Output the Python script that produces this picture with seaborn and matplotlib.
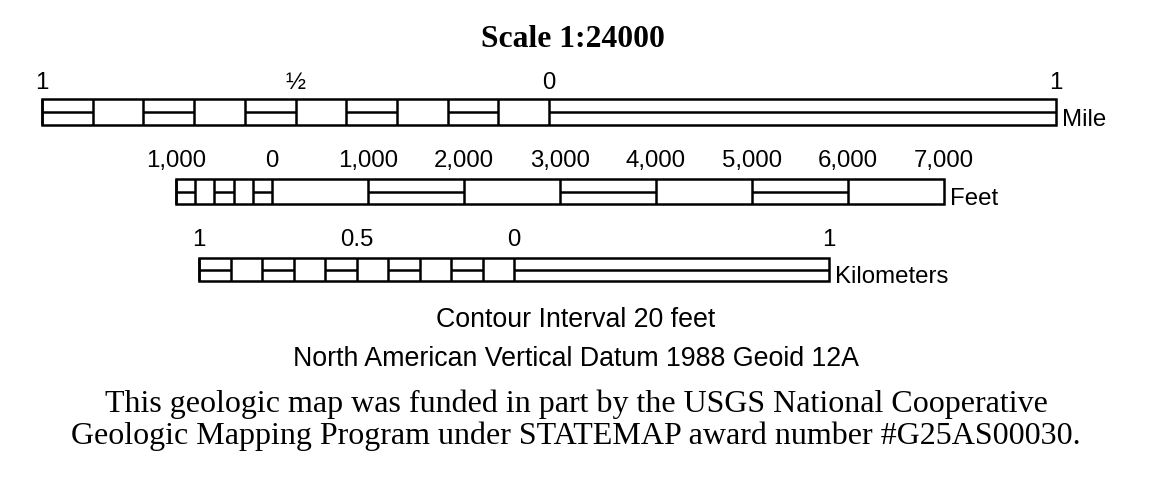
import matplotlib
matplotlib.use("Agg")
import matplotlib.pyplot as plt
import seaborn as sns
import numpy as np

# ---------------- data ----------------
title = "Scale 1:24000"
scale_denominator = 24000

mile_label_values = [-1, -0.5, 0, 1]
mile_labels = ["1", "\u00bd", "0", "1"]
mile_left_divisions = 10
mile_left_pattern = [1, 0, 1, 0, 1, 0, 1, 0, 1, 0]   # 1 = middle line
mile_right_pattern = [1]

feet_label_values = [-1000, 0, 1000, 2000, 3000, 4000, 5000, 6000, 7000]
feet_labels = ["1,000", "0", "1,000", "2,000", "3,000", "4,000", "5,000", "6,000", "7,000"]
feet_left_divisions = 5
feet_left_pattern = [1, 0, 1, 0, 1]
feet_right_pattern = [0, 1, 0, 1, 0, 1, 0]

km_label_values = [-1, -0.5, 0, 1]
km_labels = ["1", "0.5", "0", "1"]
km_left_divisions = 10
km_left_pattern = [1, 0, 1, 0, 1, 0, 1, 0, 1, 0]
km_right_pattern = [1]

unit_names = ["Mile", "Feet", "Kilometers"]
notes = ["Contour Interval 20 feet", "North American Vertical Datum 1988 Geoid 12A"]
credit = ["This geologic map was funded in part by the USGS National Cooperative",
          "Geologic Mapping Program under STATEMAP award number #G25AS00030."]

# ---------------- layout ----------------
sns.set_theme(style="white")
plt.rcParams["font.family"] = ["Liberation Sans", "DejaVu Sans"]

W, H = 1152, 485
fig = plt.figure(figsize=(W / 100, H / 100), dpi=100)
ax = fig.add_axes([0, 0, 1, 1])
ax.set_xlim(0, W)
ax.set_ylim(H, 0)
ax.axis("off")

PX_PER_MAP_INCH = 192.0
INCHES_PER_UNIT = {"mile": 63360.0, "feet": 12.0, "km": 39370.08}
LW = 1.8
sans = ["Liberation Sans", "DejaVu Sans"]
serif = ["Liberation Serif", "DejaVu Serif"]


def to_px(value, unit, zero_x):
    return zero_x + value * INCHES_PER_UNIT[unit] / scale_denominator * PX_PER_MAP_INCH


def draw_bar(unit, zero_x, y0, y1, left_extent, left_div, left_pat, right_step, right_pat,
             label_vals, labels, label_base, name, name_base):
    ym = (y0 + y1) / 2
    edges_left = np.linspace(-left_extent, 0, left_div + 1)
    edges_right = [i * right_step for i in range(len(right_pat) + 1)]
    segs = [(edges_left[i], edges_left[i + 1], left_pat[i]) for i in range(left_div)]
    segs += [(edges_right[i], edges_right[i + 1], right_pat[i]) for i in range(len(right_pat))]
    xa = to_px(segs[0][0], unit, zero_x)
    xb = to_px(segs[-1][1], unit, zero_x)
    ax.add_patch(plt.Rectangle((xa, y0), xb - xa, y1 - y0, fill=False,
                               edgecolor="black", linewidth=LW, joinstyle="miter"))
    for a, b, mid in segs:
        pa, pb = to_px(a, unit, zero_x), to_px(b, unit, zero_x)
        ax.plot([pa, pa], [y0, y1], color="black", lw=LW, solid_capstyle="butt")
        if mid:
            ax.plot([pa, pb], [ym, ym], color="black", lw=LW, solid_capstyle="butt")
    for v, t in zip(label_vals, labels):
        ax.text(to_px(v, unit, zero_x), label_base, t, ha="center", va="baseline",
                fontsize=17.3, family=sans, color="black")
    ax.text(xb + 6, name_base, name, ha="left", va="baseline",
            fontsize=17.3, family=sans, color="black")


ax.text(573, 47, title, ha="center", va="baseline", fontsize=22.8,
        fontweight="bold", family=serif, color="black")

draw_bar("mile", 549, 100, 126, 1, mile_left_divisions, mile_left_pattern, 1,
         mile_right_pattern, mile_label_values, mile_labels, 89, unit_names[0], 126)
draw_bar("feet", 272, 180, 205, 1000, feet_left_divisions, feet_left_pattern, 1000,
         feet_right_pattern, feet_label_values, feet_labels, 167, unit_names[1], 205)
draw_bar("km", 514, 259, 282, 1, km_left_divisions, km_left_pattern, 1,
         km_right_pattern, km_label_values, km_labels, 246, unit_names[2], 283)

ax.text(576, 327, notes[0], ha="center", va="baseline", fontsize=19.3, family=sans, color="black")
ax.text(576, 366, notes[1], ha="center", va="baseline", fontsize=19.3, family=sans, color="black")
ax.text(576, 412, credit[0], ha="center", va="baseline", fontsize=23, family=serif, color="black")
ax.text(576, 444, credit[1], ha="center", va="baseline", fontsize=23, family=serif, color="black")

fig.savefig("out.png", dpi=100, facecolor="white")
